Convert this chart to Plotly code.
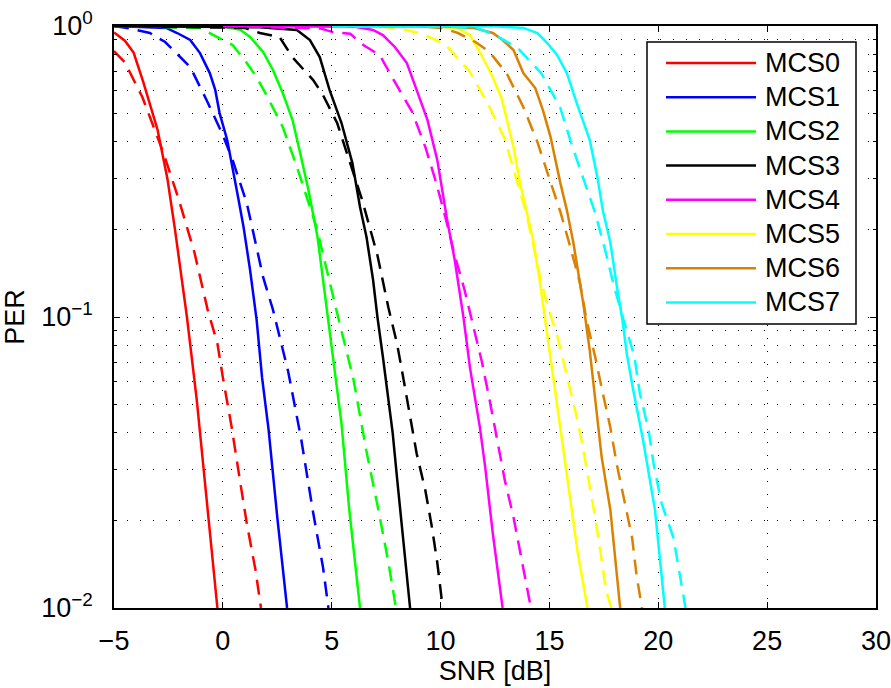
import plotly.graph_objects as go

# ---------------- data ----------------
names = ["MCS0", "MCS1", "MCS2", "MCS3", "MCS4", "MCS5", "MCS6", "MCS7"]
colors = ["#FF0000", "#0000FF", "#00FF00", "#000000", "#FF00FF", "#FFFF00", "#DA8200", "#00FFFF"]

mcs0_solid_x = [-5, -4.5, -4.1, -3.65, -3.0, -2.55, -2.2, -1.65, -1.2, -0.7, -0.25]
mcs0_solid_y = [0.95, 0.89, 0.81, 0.64, 0.44, 0.30, 0.20, 0.10, 0.052, 0.022, 0.01]
mcs0_dash_x = [-5, -4.5, -3.7, -2.75, -2.0, -1.3, -0.7, -0.25, 0.0, 0.4, 0.8, 1.1, 1.5, 1.75]
mcs0_dash_y = [0.82, 0.75, 0.57, 0.37, 0.25, 0.166, 0.106, 0.081, 0.062, 0.042, 0.027, 0.0195, 0.0135, 0.01]

mcs1_solid_x = [-5, -2.6, -2.1, -1.5, -1.05, -0.6, -0.35, -0.15, 0.2, 0.45, 0.7, 0.95, 1.25, 1.55, 1.8, 2.1, 2.5, 2.95]
mcs1_solid_y = [1.0, 0.985, 0.946, 0.895, 0.807, 0.689, 0.603, 0.502, 0.406, 0.328, 0.258, 0.204, 0.145, 0.098, 0.062, 0.041, 0.0205, 0.01]
mcs1_dash_x = [-5, -4.4, -3.35, -2.65, -1.5, -0.75, 0.0, 0.45, 1.1, 1.85, 2.3, 3.0, 3.6, 4.15, 4.6, 4.85]
mcs1_dash_y = [1.0, 0.985, 0.946, 0.881, 0.723, 0.557, 0.422, 0.346, 0.246, 0.137, 0.106, 0.065, 0.038, 0.0212, 0.0138, 0.01]

mcs2_solid_x = [-5, 0.0, 0.8, 1.25, 1.85, 2.3, 2.75, 3.2, 3.55, 3.9, 4.35, 4.8, 5.1, 5.45, 5.8, 6.3]
mcs2_solid_y = [1.0, 0.995, 0.97, 0.917, 0.814, 0.706, 0.589, 0.475, 0.366, 0.280, 0.188, 0.103, 0.067, 0.043, 0.022, 0.01]
mcs2_dash_x = [-5, -1.05, 0.0, 0.45, 1.1, 1.55, 2.05, 2.75, 3.4, 4.3, 5.25, 6.0, 6.6, 7.1, 7.6, 7.95]
mcs2_dash_y = [1.0, 0.985, 0.895, 0.86, 0.746, 0.668, 0.57, 0.45, 0.328, 0.204, 0.103, 0.061, 0.0344, 0.0226, 0.0144, 0.01]

mcs3_solid_x = [-5, 1.7, 3.4, 4.0, 4.45, 4.9, 5.45, 5.95, 6.3, 6.6, 6.9, 7.1, 7.35, 7.8, 8.0, 8.25, 8.6]
mcs3_solid_y = [1.0, 0.99, 0.969, 0.895, 0.782, 0.603, 0.464, 0.338, 0.239, 0.188, 0.134, 0.10, 0.073, 0.040, 0.028, 0.018, 0.01]
mcs3_dash_x = [-5, 1.0, 1.7, 2.6, 3.2, 4.15, 4.6, 5.25, 6.4, 7.1, 7.6, 8.0, 8.3, 8.6, 8.9, 9.3, 9.6, 9.85, 10.1]
mcs3_dash_y = [1.0, 0.985, 0.946, 0.917, 0.78, 0.652, 0.579, 0.464, 0.252, 0.163, 0.108, 0.081, 0.061, 0.045, 0.034, 0.0254, 0.019, 0.0143, 0.01]

mcs4_solid_x = [0, 6.0, 6.9, 7.35, 7.9, 8.45, 8.9, 9.4, 9.85, 10.3, 10.65, 11.05, 11.35, 11.8, 12.05, 12.4, 12.85]
mcs4_solid_y = [1.0, 0.995, 0.969, 0.931, 0.847, 0.746, 0.603, 0.475, 0.346, 0.216, 0.157, 0.10, 0.067, 0.042, 0.0305, 0.018, 0.01]
mcs4_dash_x = [0, 4.5, 5.05, 5.85, 6.45, 7.2, 7.85, 8.7, 9.3, 9.8, 10.25, 10.65, 11.1, 11.5, 11.9, 12.25, 12.6, 12.95, 13.35, 13.65, 13.95, 14.15]
mcs4_dash_y = [1.0, 0.98, 0.953, 0.94, 0.86, 0.795, 0.652, 0.506, 0.384, 0.289, 0.216, 0.163, 0.124, 0.094, 0.070, 0.052, 0.0378, 0.0275, 0.0205, 0.0156, 0.0117, 0.01]

mcs5_solid_x = [5, 9.5, 10.75, 11.35, 11.8, 12.35, 12.8, 13.05, 13.35, 13.65, 13.95, 14.25, 14.55, 14.8, 15.05, 15.5, 15.95, 16.3, 16.75]
mcs5_solid_y = [1.0, 0.998, 0.985, 0.931, 0.814, 0.679, 0.566, 0.475, 0.384, 0.289, 0.228, 0.184, 0.134, 0.098, 0.071, 0.042, 0.0235, 0.0155, 0.01]
mcs5_dash_x = [5, 7.6, 8.4, 9.05, 10.2, 11.35, 12.2, 12.95, 13.4, 13.9, 14.25, 14.6, 14.95, 15.35, 15.75, 16.15, 16.5, 16.8, 17.1, 17.35, 17.6, 17.85]
mcs5_dash_y = [1.0, 0.99, 0.969, 0.946, 0.867, 0.695, 0.535, 0.409, 0.313, 0.233, 0.178, 0.134, 0.107, 0.0867, 0.0652, 0.049, 0.0369, 0.0275, 0.0205, 0.0155, 0.0115, 0.01]

mcs6_solid_x = [5, 10.5, 11.5, 12.4, 12.85, 13.35, 13.8, 14.35, 14.7, 15.05, 15.5, 15.8, 16.1, 16.55, 16.85, 17.1, 17.4, 17.8, 18.0, 18.25]
mcs6_solid_y = [1.0, 0.995, 0.985, 0.946, 0.895, 0.827, 0.689, 0.612, 0.514, 0.416, 0.289, 0.233, 0.18, 0.112, 0.077, 0.052, 0.033, 0.0217, 0.0155, 0.01]
mcs6_dash_x = [5, 9.2, 10.05, 10.8, 11.6, 12.25, 13.05, 13.8, 14.45, 14.95, 15.5, 15.95, 16.4, 16.7, 17.1, 17.45, 17.8, 18.1, 18.45, 18.8, 19.0, 19.25]
mcs6_dash_y = [1.0, 0.995, 0.985, 0.946, 0.881, 0.814, 0.684, 0.527, 0.399, 0.305, 0.230, 0.175, 0.131, 0.098, 0.073, 0.0548, 0.0416, 0.031, 0.0231, 0.0174, 0.013, 0.01]

mcs7_solid_x = [5, 12.5, 13.8, 14.45, 14.9, 15.35, 15.8, 16.25, 16.85, 17.2, 17.45, 17.8, 18.1, 18.35, 18.55, 18.85, 19.3, 19.85, 20.0, 20.3]
mcs7_solid_y = [1.0, 0.998, 0.985, 0.946, 0.874, 0.795, 0.689, 0.544, 0.406, 0.303, 0.233, 0.18, 0.127, 0.098, 0.075, 0.056, 0.0378, 0.0217, 0.0167, 0.01]
mcs7_dash_x = [5, 10.5, 11.65, 12.5, 13.55, 14.65, 15.5, 16.0, 16.55, 17.1, 17.55, 17.95, 18.4, 18.9, 19.15, 19.55, 19.8, 20.15, 20.7, 21.0, 21.25]
mcs7_dash_y = [1.0, 0.995, 0.985, 0.931, 0.84, 0.684, 0.523, 0.396, 0.30, 0.228, 0.171, 0.129, 0.098, 0.0734, 0.0548, 0.041, 0.0308, 0.0229, 0.0174, 0.013, 0.01]

solid = [
    (mcs0_solid_x, mcs0_solid_y), (mcs1_solid_x, mcs1_solid_y), (mcs2_solid_x, mcs2_solid_y),
    (mcs3_solid_x, mcs3_solid_y), (mcs4_solid_x, mcs4_solid_y), (mcs5_solid_x, mcs5_solid_y),
    (mcs6_solid_x, mcs6_solid_y), (mcs7_solid_x, mcs7_solid_y),
]
dashed = [
    (mcs0_dash_x, mcs0_dash_y), (mcs1_dash_x, mcs1_dash_y), (mcs2_dash_x, mcs2_dash_y),
    (mcs3_dash_x, mcs3_dash_y), (mcs4_dash_x, mcs4_dash_y), (mcs5_dash_x, mcs5_dash_y),
    (mcs6_dash_x, mcs6_dash_y), (mcs7_dash_x, mcs7_dash_y),
]

x_ticks = [-5, 0, 5, 10, 15, 20, 25, 30]
y_tickvals = [0.01, 0.1, 1]
y_ticktext = ["10<sup>\u22122</sup>", "10<sup>\u22121</sup>", "10<sup>0</sup>"]

# ---------------- figure ----------------
FONT = "Liberation Sans, Arial, Helvetica, sans-serif"
FS = 27
W, H = 891, 688
L, R, T, B = 114, 15, 26, 80
LW = 2.5
DASH = "15px,9px"

fig = go.Figure()
for i in range(8):
    sx, sy = solid[i]
    dx, dy = dashed[i]
    fig.add_trace(go.Scatter(x=sx, y=sy, mode="lines", name=names[i],
                             line=dict(color=colors[i], width=LW), showlegend=False))
    fig.add_trace(go.Scatter(x=dx, y=dy, mode="lines", name=names[i] + " (dashed)",
                             line=dict(color=colors[i], width=LW, dash=DASH), showlegend=False))

GRIDDASH = "1px,12px"
fig.update_xaxes(
    range=[-5, 30], tickmode="array", tickvals=x_ticks,
    showline=True, linecolor="black", linewidth=1.5, mirror="ticks",
    ticks="inside", ticklen=6, tickwidth=1, tickcolor="black",
    showgrid=True, gridcolor="black", gridwidth=1, griddash=GRIDDASH,
    zeroline=False,
    tickfont=dict(family=FONT, size=FS, color="black"),
    ticklabelstandoff=8, ticklabeloverflow="allow",
    title=dict(text="SNR [dB]", font=dict(family=FONT, size=FS, color="black"), standoff=6),
)
fig.update_yaxes(
    type="log", range=[-2, 0], tickmode="array", tickvals=y_tickvals, ticktext=y_ticktext,
    showline=True, linecolor="black", linewidth=1.5, mirror="ticks",
    ticks="inside", ticklen=6, tickwidth=1, tickcolor="black",
    showgrid=True, gridcolor="black", gridwidth=1, griddash=GRIDDASH,
    zeroline=False,
    tickfont=dict(family=FONT, size=FS, color="black"),
    ticklabelstandoff=14, ticklabeloverflow="allow",
    minor=dict(dtick="D1", ticks="inside", ticklen=3, tickcolor="black", tickwidth=1,
               showgrid=True, gridcolor="black", gridwidth=1, griddash=GRIDDASH),
    title=dict(text="PER", font=dict(family=FONT, size=FS, color="black"), standoff=10),
)

# ---------------- manual legend (box, sample lines, labels) ----------------
def px2paper_x(px):
    return (px - L) / (W - L - R)

def px2paper_y(py):
    return (H - B - py) / (H - B - T)

shapes = [dict(type="rect", xref="paper", yref="paper", layer="above",
               x0=px2paper_x(647), x1=px2paper_x(856), y0=px2paper_y(324), y1=px2paper_y(42),
               line=dict(color="black", width=1.5), fillcolor="white")]
annotations = []
for i in range(8):
    yy = px2paper_y(63 + 34.2 * i)
    shapes.append(dict(type="line", xref="paper", yref="paper", layer="above",
                       x0=px2paper_x(666), x1=px2paper_x(756), y0=yy, y1=yy,
                       line=dict(color=colors[i], width=LW)))
    annotations.append(dict(xref="paper", yref="paper", x=px2paper_x(763), y=yy,
                            xanchor="left", yanchor="middle", showarrow=False,
                            text=names[i], font=dict(family=FONT, size=FS, color="black")))

fig.update_layout(
    width=W, height=H, margin=dict(l=L, r=R, t=T, b=B, autoexpand=False),
    paper_bgcolor="white", plot_bgcolor="white",
    showlegend=False, shapes=shapes, annotations=annotations,
    font=dict(family=FONT, size=FS, color="black"),
)

fig.write_html("out.html")
